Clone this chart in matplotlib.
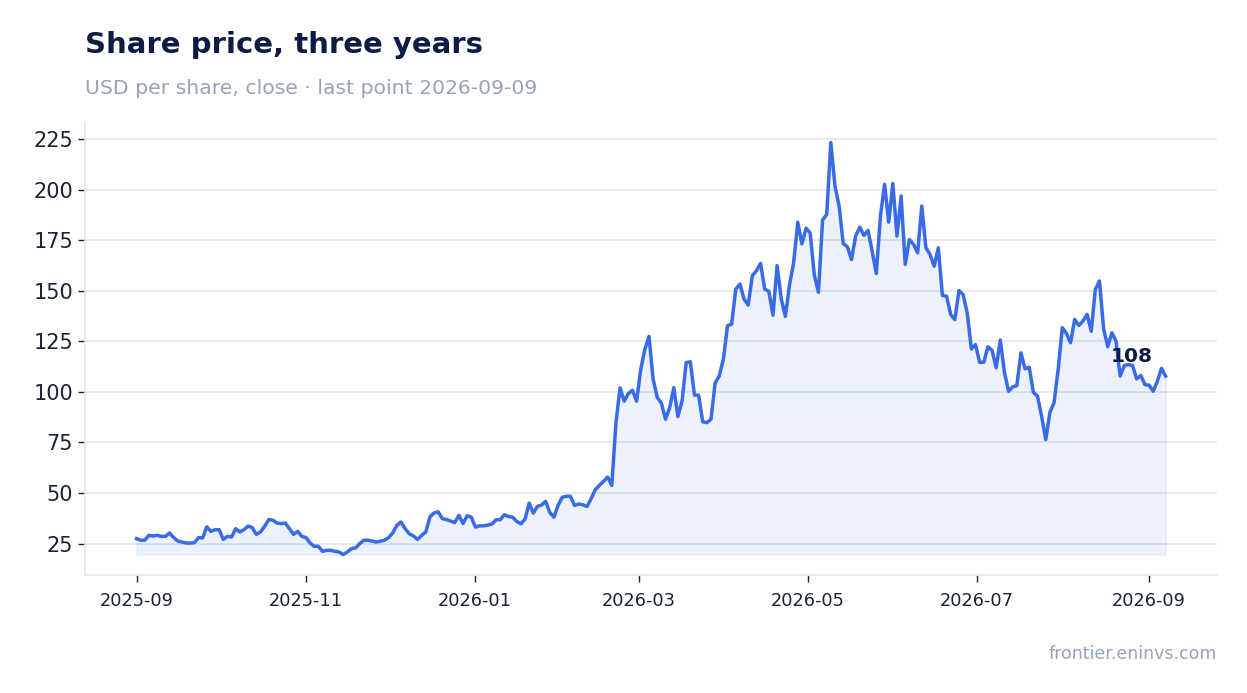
import matplotlib
matplotlib.use("Agg")
import matplotlib.pyplot as plt
import matplotlib.dates as mdates
import numpy as np
import pandas as pd

# close prices, evenly spaced from first to last date
start_date = "2025-09-01"
end_date = "2026-09-07"
price = [
    # Sep - early Nov 2025
    27.5, 26.7, 26.7, 29.1, 28.8, 29.1, 28.6, 28.6, 30.3, 28.0,
    26.3, 25.8, 25.3, 25.3, 25.5, 28.0, 27.8, 33.3, 31.1, 31.9,
    31.9, 27.1, 28.6, 28.3, 32.4, 30.8, 31.9, 33.7, 32.9, 29.6,
    30.8, 33.6, 36.9, 36.6, 35.2, 34.9, 35.2, 32.4, 29.6, 31.1,
    28.6, 28.0,
    # Nov - Dec 2025
    25.3, 23.7, 23.7, 21.2, 21.7, 21.7, 21.2, 20.9, 19.6, 20.9,
    22.5, 22.9, 25.0, 26.7, 26.7, 26.3, 25.8, 26.2, 26.7, 28.0,
    30.3, 34.1, 35.7, 32.4, 29.9, 28.8, 27.1, 29.1, 30.8, 38.2,
    40.2, 40.7, 37.4, 36.9, 36.2, 35.4, 39.0, 34.9,
    # Jan - Mar 2026
    38.8, 38.1, 33.2, 33.8, 33.8, 34.2, 34.7, 36.8, 36.8, 39.3,
    38.4, 38.1, 36.0, 34.8, 37.1, 45.0, 40.1, 43.4, 44.1, 45.9,
    40.4, 38.1, 43.9, 47.9, 48.4, 48.4, 43.9, 44.6, 44.2, 43.4,
    47.2, 51.7, 53.8, 55.8, 57.9, 53.8, 84.7, 102.0, 95.4, 99.2,
    100.8, 95.4, 111.1, 121.0,
    # Mar - May 2026
    127.4, 106.3, 97.2, 94.4, 86.5, 92.2, 102.1, 87.8, 95.5, 114.5,
    114.9, 98.4, 98.4, 85.2, 84.8, 86.5, 104.3, 107.9, 116.2, 132.7,
    133.5, 150.8, 153.3, 145.9, 142.9, 157.4, 159.9, 163.5, 150.8, 149.7,
    137.9, 162.4, 145.9, 137.3, 152.8, 164.0, 183.8, 173.1, 180.9, 178.5,
    157.8, 149.2,
    # May - Jul 2026
    184.9, 187.7, 223.2, 201.7, 191.8, 173.3, 171.7, 165.4, 177.0, 181.4,
    177.3, 179.8, 169.5, 158.5, 186.9, 202.6, 183.9, 203.0, 177.0, 196.8,
    163.0, 175.3, 172.9, 168.7, 191.8, 171.2, 167.9, 162.1, 171.2, 147.6,
    147.3, 138.2, 135.7, 150.1, 148.1, 139.0, 121.2, 123.4, 114.6, 114.6,
    # Jul - Sep 2026
    122.3, 120.6, 111.9, 125.6, 109.7, 100.3, 102.5, 103.1, 119.3, 111.4,
    112.2, 99.8, 97.9, 88.0, 76.4, 89.9, 94.6, 111.1, 131.7, 128.9,
    124.3, 135.8, 132.8, 135.0, 138.3, 130.0, 150.7, 154.8, 131.2, 122.3,
    129.2, 125.1, 107.8, 113.0, 113.5, 113.0, 106.4, 108.1, 103.6, 103.3,
    100.3, 105.3, 111.6, 107.8,
]

title = "Share price, three years"
subtitle = "USD per share, close \u00b7 last point 2026-09-09"
source = "frontier.eninvs.com"

dates = pd.date_range(start_date, end_date, periods=len(price))
price = np.array(price)

blue = "#3a6be6"
navy = "#0d1b45"
grey_text = "#97a3b8"
grid_col = "#e1e6ef"

fig = plt.figure(figsize=(12.47, 6.93), dpi=100)
ax = fig.add_axes([0.0682, 0.170, 0.9078, 0.654])

ax.fill_between(dates, price, price.min(), color=blue, alpha=0.09, linewidth=1.0)
ax.plot(dates, price, color=blue, linewidth=2.5, solid_joinstyle="round")

last = price[-1]
ax.annotate(f"{last:.0f}", xy=(dates[-1], last), xytext=(-9, 10),
            textcoords="offset points", ha="right", va="baseline",
            fontsize=14.5, fontweight="bold", color=navy)

ax.set_yticks([25, 50, 75, 100, 125, 150, 175, 200, 225])
ax.xaxis.set_major_locator(mdates.MonthLocator(bymonth=[1, 3, 5, 7, 9, 11]))
ax.xaxis.set_major_formatter(mdates.DateFormatter("%Y-%m"))

ax.grid(axis="y", color=grid_col, linewidth=1.2)
ax.set_axisbelow(True)
for side in ["top", "right"]:
    ax.spines[side].set_visible(False)
for side in ["left", "bottom"]:
    ax.spines[side].set_color(grid_col)
    ax.spines[side].set_linewidth(1.2)

ax.tick_params(axis="y", labelsize=15, colors="#1b2238", length=5, width=1.0)
ax.tick_params(axis="x", labelsize=12.8, colors="#1b2238", length=5, width=1.0, pad=7)

fig.text(0.0682, 0.923, title, fontsize=21, fontweight="bold", color=navy,
         ha="left", va="baseline")
fig.text(0.0682, 0.864, subtitle, fontsize=14.7, color=grey_text,
         ha="left", va="baseline")
fig.text(0.976, 0.049, source, fontsize=12.5, color=grey_text,
         ha="right", va="baseline")

fig.savefig("out.png", dpi=100)
